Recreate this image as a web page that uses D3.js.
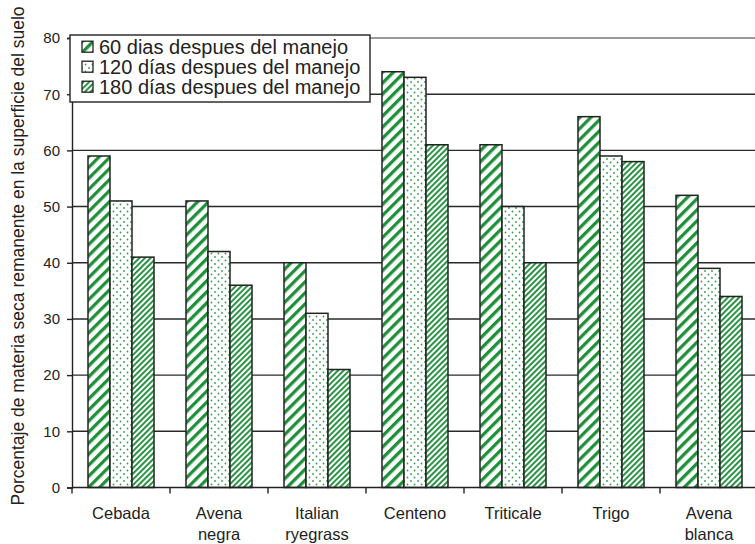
<!DOCTYPE html>
<html><head><meta charset="utf-8">
<script src="https://cdn.jsdelivr.net/npm/d3@7/dist/d3.min.js"></script>
<style>body{margin:0;background:#fff}svg{display:block}text{font-family:"Liberation Sans",Arial,sans-serif;fill:#222}</style>
</head><body>
<script>
const categories = [["Cebada"],["Avena","negra"],["Italian","ryegrass"],["Centeno"],["Triticale"],["Trigo"],["Avena","blanca"]];
const seriesNames = ["60 dias despues del manejo","120 días despues del manejo","180 días despues del manejo"];
const v60  = [59, 51, 40, 74, 61, 66, 52];
const v120 = [51, 42, 31, 73, 50, 59, 39];
const v180 = [41, 36, 21, 61, 40, 58, 34];
const yTicks = [0,10,20,30,40,50,60,70,80];
const yTitle = "Porcentaje de materia seca  remanente en la superficie del suelo";

const W=755,H=544;
const svg=d3.select("body").append("svg").attr("width",W).attr("height",H);
const defs=svg.append("defs");
const green="#1f8f3a";
const p1=defs.append("pattern").attr("id","wide").attr("patternUnits","userSpaceOnUse").attr("width",7.8).attr("height",7.8).attr("patternTransform","rotate(45)");
p1.append("rect").attr("width",7.8).attr("height",7.8).attr("fill","#fff");
p1.append("rect").attr("width",3.3).attr("height",7.8).attr("fill",green);
const p3=defs.append("pattern").attr("id","narrow").attr("patternUnits","userSpaceOnUse").attr("width",4).attr("height",4).attr("patternTransform","rotate(45)");
p3.append("rect").attr("width",4).attr("height",4).attr("fill","#fff");
p3.append("rect").attr("width",1.9).attr("height",4).attr("fill",green);
const p2=defs.append("pattern").attr("id","dots").attr("patternUnits","userSpaceOnUse").attr("width",7).attr("height",7);
p2.append("rect").attr("width",7).attr("height",7).attr("fill","#fff");
p2.append("circle").attr("cx",1.5).attr("cy",1.5).attr("r",0.9).attr("fill","#3a9a50");
p2.append("circle").attr("cx",5).attr("cy",5).attr("r",0.9).attr("fill","#3a9a50");
const fills=["url(#wide)","url(#dots)","url(#narrow)"];

const y=d3.scaleLinear().domain([0,80]).range([487.5,38]);
const x0=d3.scaleBand().domain(d3.range(categories.length)).range([72,758]);
const x1=d3.scaleBand().domain([0,1,2]).range([0,x0.bandwidth()]).paddingInner(0).paddingOuter(0.727);
const data=[v60,v120,v180];

svg.append("g").selectAll("line").data(yTicks.filter(t=>t>0)).join("line")
 .attr("x1",72).attr("x2",W).attr("y1",d=>y(d)).attr("y2",d=>y(d))
 .attr("stroke",d=>d===80?"#999":"#2a2a2a").attr("stroke-width",d=>d===80?2:1.4);

categories.forEach((c,i)=>{
  data.forEach((s,j)=>{
    svg.append("rect").attr("x",x0(i)+x1(j)).attr("y",y(s[i])).attr("width",x1.bandwidth()).attr("height",y(0)-y(s[i]))
      .attr("fill",fills[j]).attr("stroke","#222").attr("stroke-width",1.5);
  });
});

const ya=svg.append("g").attr("transform","translate(72,0)").call(d3.axisLeft(y).tickValues(yTicks).tickSize(5).tickPadding(7));
ya.select(".domain").attr("stroke","#222").attr("stroke-width",1.4);
ya.selectAll(".tick line").attr("stroke","#222").attr("stroke-width",1.4);
ya.selectAll(".tick text").style("font-size","15px").attr("fill","#222").style("font-family","Liberation Sans, Arial, sans-serif");

svg.append("line").attr("x1",72).attr("x2",W).attr("y1",y(0)).attr("y2",y(0)).attr("stroke","#222").attr("stroke-width",1.6);
svg.append("g").selectAll("line").data(d3.range(categories.length+1)).join("line")
 .attr("x1",d=>72+d*x0.step()).attr("x2",d=>72+d*x0.step()).attr("y1",y(0)).attr("y2",y(0)+6).attr("stroke","#222").attr("stroke-width",1.4);
const lab=svg.append("g").selectAll("text").data(categories).join("text")
 .attr("x",(d,i)=>x0(i)+x0.bandwidth()/2).attr("y",519).attr("text-anchor","middle").style("font-size","16.5px");
lab.selectAll("tspan").data(d=>d).join("tspan").attr("x",function(){return this.parentNode.getAttribute("x");}).attr("dy",(d,k)=>k?21:0).text(d=>d);

svg.append("text").attr("transform","translate(24,256) rotate(-90)").attr("text-anchor","middle").style("font-size","17.5px").text(yTitle);

const lg=svg.append("g");
lg.append("rect").attr("x",70).attr("y",35).attr("width",300).attr("height",67).attr("fill","#fff").attr("stroke","#222").attr("stroke-width",1.4);
seriesNames.forEach((n,j)=>{
  const cy=46.7+j*20;
  lg.append("rect").attr("x",82).attr("y",cy-5.5).attr("width",11).attr("height",11).attr("fill",fills[j]).attr("stroke","#222").attr("stroke-width",1.3);
  lg.append("text").attr("x",99).attr("y",cy+7).style("font-size","20px").text(n);
});
</script>
</body></html>
